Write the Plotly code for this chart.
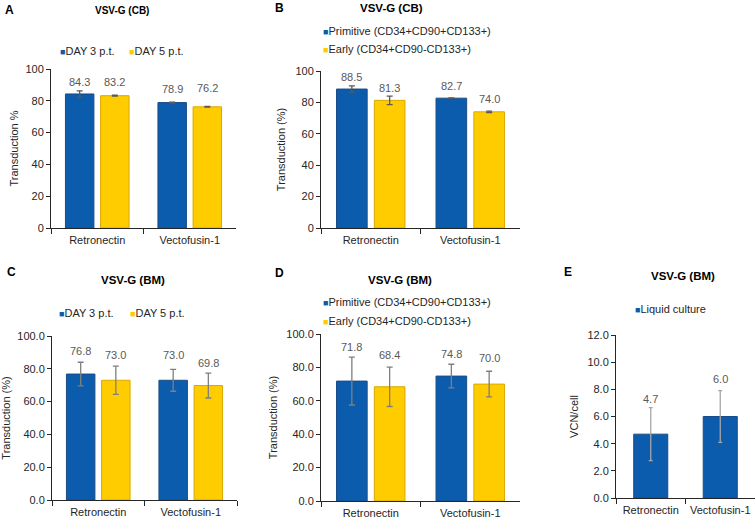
import plotly.graph_objects as go

categories = ['Retronectin', 'Vectofusin-1']

# panel A - VSV-G (CB), transduction by day
a_day3 = [84.3, 78.9]
a_day3_err = [2.0, 0.3]
a_day5 = [83.2, 76.2]
a_day5_err = [0.3, 0.2]

# panel B - VSV-G (CB), by subpopulation
b_primitive = [88.5, 82.7]
b_primitive_err = [2.0, 0.2]
b_early = [81.3, 74.0]
b_early_err = [2.7, 0.5]

# panel C - VSV-G (BM), transduction by day
c_day3 = [76.8, 73.0]
c_day3_err = [7.2, 6.7]
c_day5 = [73.0, 69.8]
c_day5_err = [8.6, 7.6]

# panel D - VSV-G (BM), by subpopulation
d_primitive = [71.8, 74.8]
d_primitive_err = [14.3, 7.1]
d_early = [68.4, 70.0]
d_early_err = [11.8, 7.7]

# panel E - VSV-G (BM), VCN
e_liquid = [4.7, 6.0]
e_liquid_err = [1.95, 1.9]

W, H = 755, 522
BLUE = '#0B5CAD'
BLUE_EDGE = '#1B4C86'
YELLOW = '#FFCC00'
YELLOW_EDGE = '#D8A900'
FONT = 'Liberation Sans, Arial, sans-serif'
BARGAP = 0.24


def px(x0, x1):
    return [x0 / W, x1 / W]


def py(y0, y1):
    return [1 - y1 / H, 1 - y0 / H]


panels = [
    dict(letter='A', letter_pos=(3, 10), title='VSV-G (CB)', title_pos=(122, 10), title_size=10,
         ytitle='Transduction %', standoff=4, xdom=px(51, 236), ydom=py(69, 228),
         yrange=[0, 100], dtick=20, tickformat='d', err_color='#595959', cap=3,
         series=[('DAY 3 p.t.', a_day3, a_day3_err, BLUE, BLUE_EDGE, [12, 14]),
                 ('DAY 5 p.t.', a_day5, a_day5_err, YELLOW, YELLOW_EDGE, [14, 19])],
         legend=[(58, 51), (127, 51)]),
    dict(letter='B', letter_pos=(273, 8), title='VSV-G (CB)', title_pos=(391, 8), title_size=11.5,
         ytitle='Transduction (%)', standoff=7, xdom=px(321, 520), ydom=py(71, 228),
         yrange=[0, 100], dtick=20, tickformat='d', err_color='#595959', cap=3,
         series=[('Primitive (CD34+CD90+CD133+)', b_primitive, b_primitive_err, BLUE, BLUE_EDGE, [12, 12]),
                 ('Early (CD34+CD90-CD133+)', b_early, b_early_err, YELLOW, YELLOW_EDGE, [12, 13])],
         legend=[(321, 31), (321, 49)]),
    dict(letter='C', letter_pos=(5, 272), title='VSV-G (BM)', title_pos=(133, 280), title_size=11.5,
         ytitle='Transduction (%)', standoff=7, xdom=px(52, 237), ydom=py(336, 500),
         yrange=[0, 100], dtick=20, tickformat='.1f', err_color='#7F7F7F', cap=3,
         series=[('DAY 3 p.t.', c_day3, c_day3_err, BLUE, BLUE_EDGE, [23, 25]),
                 ('DAY 5 p.t.', c_day5, c_day5_err, YELLOW, YELLOW_EDGE, [25, 23])],
         legend=[(57, 313), (128, 313)]),
    dict(letter='D', letter_pos=(273, 273), title='VSV-G (BM)', title_pos=(400, 280), title_size=11.5,
         ytitle='Transduction (%)', standoff=6, xdom=px(321, 520), ydom=py(334, 501),
         yrange=[0, 100], dtick=20, tickformat='.1f', err_color='#7F7F7F', cap=3,
         series=[('Primitive (CD34+CD90+CD133+)', d_primitive, d_primitive_err, BLUE, BLUE_EDGE, [34, 22]),
                 ('Early (CD34+CD90-CD133+)', d_early, d_early_err, YELLOW, YELLOW_EDGE, [32, 26])],
         legend=[(321, 302), (321, 321)]),
    dict(letter='E', letter_pos=(562, 272), title='VSV-G (BM)', title_pos=(683, 276), title_size=11.5,
         ytitle='VCN/cell', standoff=6, xdom=px(616, 755), ydom=py(335, 498),
         yrange=[0, 12], dtick=2, tickformat='.1f', err_color='#A6A6A6', cap=2,
         series=[('Liquid culture', e_liquid, e_liquid_err, BLUE, BLUE_EDGE, [35, 38])],
         legend=[(633, 309)]),
]

fig = go.Figure()
annotations = []

for i, p in enumerate(panels):
    n = '' if i == 0 else str(i + 1)
    xa, ya = 'x' + n, 'y' + n
    single = len(p['series']) == 1

    for k, (name, vals, errs, color, edge, shifts) in enumerate(p['series']):
        fig.add_trace(go.Bar(
            x=categories, y=vals, name=name, xaxis=xa, yaxis=ya,
            width=0.49 if single else None,
            offset=-0.245 if single else None,
            marker=dict(color=color, line=dict(color=edge, width=1)),
            error_y=dict(type='data', array=errs, color=p['err_color'],
                         thickness=1.3, width=p['cap']),
            showlegend=False,
        ))

        # value labels above bars
        for j, v in enumerate(vals):
            if single:
                xpos = j
            else:
                xpos = j + (k - 0.5) * (1 - BARGAP) / 2
            annotations.append(dict(
                x=xpos, y=v, xref=xa, yref=ya, text=f'{v:.1f}', showarrow=False,
                yshift=shifts[j], yanchor='middle', xanchor='center',
                font=dict(size=11, color='#595959', family=FONT)))

        # legend entry
        lx, ly = p['legend'][k]
        annotations.append(dict(
            x=lx / W, y=1 - ly / H, xref='paper', yref='paper', showarrow=False,
            xanchor='left', yanchor='middle',
            text=f'<span style="color:{color};font-size:9px">■</span>{name}',
            font=dict(size=11, color='#262626', family=FONT)))

    # panel letter and title
    annotations.append(dict(
        x=p['letter_pos'][0] / W, y=1 - p['letter_pos'][1] / H, xref='paper', yref='paper',
        text=f"<b>{p['letter']}</b>", showarrow=False, xanchor='left', yanchor='middle',
        font=dict(size=12, color='#000000', family=FONT)))
    annotations.append(dict(
        x=p['title_pos'][0] / W, y=1 - p['title_pos'][1] / H, xref='paper', yref='paper',
        text=f"<b>{p['title']}</b>", showarrow=False, xanchor='center', yanchor='middle',
        font=dict(size=p['title_size'], color='#000000', family=FONT)))

    fig.update_layout(**{
        'xaxis' + n: dict(
            domain=p['xdom'], anchor=ya, type='category', range=[-0.5, 1.5],
            showline=True, linecolor='#262626', linewidth=1, ticks='outside',
            tickson='boundaries', ticklen=5, tickcolor='#262626', showgrid=False,
            tickangle=0, ticklabelstandoff=2,
            tickfont=dict(size=11, color='#262626', family=FONT), automargin=False),
        'yaxis' + n: dict(
            domain=p['ydom'], anchor=xa, range=p['yrange'], dtick=p['dtick'],
            tickformat=p['tickformat'], showline=True, linecolor='#262626', linewidth=1,
            ticks='outside', ticklen=4, tickcolor='#262626', showgrid=False, zeroline=False,
            tickfont=dict(size=11, color='#262626', family=FONT), automargin=False,
            title=dict(text=p['ytitle'], standoff=p['standoff'],
                       font=dict(size=11, color='#262626', family=FONT))),
    })

fig.update_layout(
    width=W, height=H,
    margin=dict(l=0, r=0, t=0, b=0),
    barmode='group', bargap=BARGAP, bargroupgap=0.19,
    plot_bgcolor='white', paper_bgcolor='white',
    font=dict(family=FONT),
    annotations=annotations,
)

# page body has a default 8px margin; drop it so the figure fills the window
fig.write_html('out.html', config={'displayModeBar': False},
               post_script="document.body.style.margin='0px';")
